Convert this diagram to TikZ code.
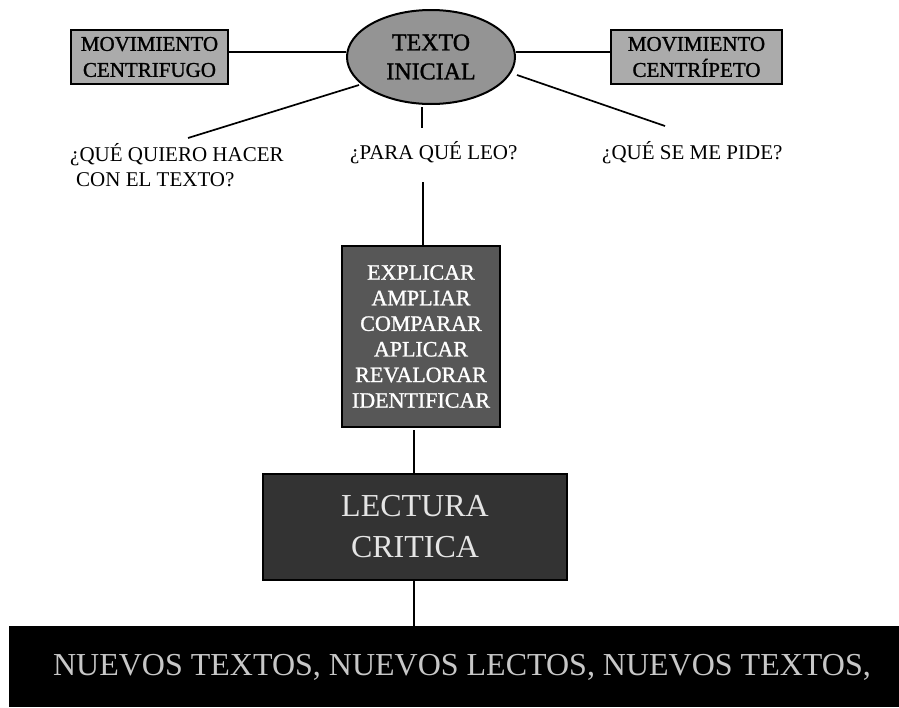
\documentclass[tikz,border=0pt]{standalone}
\usepackage{fontspec}
\setmainfont{Liberation Serif}
\newfontface\heavy[FakeBold=1.2]{Liberation Serif}
\usetikzlibrary{shapes.geometric,calc}
\tikzset{
  x=1pt,y=-1pt,
  link/.style={draw=black,line width=1.7pt},
  plain/.style={font=\fontsize{21}{25}\selectfont,align=left,text=black,inner sep=0pt},
  lightbox/.style={draw=black,line width=2pt,fill=black!33,inner sep=0pt,align=center,text=black,font=\heavy\fontsize{21}{26}\selectfont},
  midbox/.style={draw=black,line width=2pt,fill=black!66,inner sep=0pt,align=center,text=white,font=\heavy\fontsize{22}{25.6}\selectfont},
  darkbox/.style={draw=black,line width=2pt,fill=black!80,inner sep=0pt,align=center,text=black!10,font=\fontsize{32}{41}\selectfont},
  ovalbox/.style={ellipse,draw=black,line width=2pt,fill=black!42,inner sep=0pt,align=center,text=black,font=\heavy\fontsize{24}{29}\selectfont},
  barbox/.style={fill=black,inner sep=0pt},
  barlabel/.style={inner sep=0pt,text=black!22,font=\fontsize{32}{32}\selectfont}
}
\begin{document}
\begin{tikzpicture}
\useasboundingbox (0,0) rectangle (899,707);
\node[lightbox,minimum width=157pt,minimum height=54pt] (mcf) at (149.5,57) {MOVIMIENTO\\CENTRIFUGO};
\node[lightbox,minimum width=171pt,minimum height=54pt] (mcp) at (696.5,57) {MOVIMIENTO\\CENTRÍPETO};
\node[ovalbox,minimum width=168pt,minimum height=94pt] (ini) at (431,57) {TEXTO\\INICIAL};
\node[midbox,minimum width=158pt,minimum height=181pt] (verbs) at (421,336.5) {EXPLICAR\\AMPLIAR\\COMPARAR\\APLICAR\\REVALORAR\\IDENTIFICAR};
\node[darkbox,minimum width=304pt,minimum height=106pt] (lect) at (415,527) {LECTURA\\CRITICA};
\node[barbox,minimum width=890pt,minimum height=81pt] (bar) at (454,666.5) {};
\node[barlabel] (bartext) at (462,667) {NUEVOS TEXTOS, NUEVOS LECTOS, NUEVOS TEXTOS,};
%
\node[plain,anchor=west] (q1a) at (70,155) {¿QUÉ QUIERO HACER};
\node[plain,anchor=west] (q1b) at (76,180) {CON EL TEXTO?};
\node[plain,anchor=west] (q2) at (350,153) {¿PARA QUÉ LEO?};
\node[plain,anchor=west] (q3) at (602,153) {¿QUÉ SE ME PIDE?};
%
\coordinate (tickA) at (422,107); \coordinate (tickB) at (422,128);
\coordinate (tickC) at (423,182);
\coordinate (lA) at (359,85);  \coordinate (lB) at (188,138);
\coordinate (rA) at (517,75);  \coordinate (rB) at (665,126);
\draw[link] (mcf.east |- 0,52) -- (ini.west |- 0,52);
\draw[link] (ini.east |- 0,52) -- (mcp.west |- 0,52);
\draw[link] (lA) -- (lB);
\draw[link] (rA) -- (rB);
\draw[link] (tickA) -- (tickB);
\draw[link] (tickC) -- (verbs.north -| tickC);
\coordinate (midx) at (414,0);
\draw[link] ($(verbs.south -| midx)+(0,2)$) -- (lect.north -| midx);
\draw[link] (lect.south -| midx) -- (bar.north -| midx);
\end{tikzpicture}
\end{document}
